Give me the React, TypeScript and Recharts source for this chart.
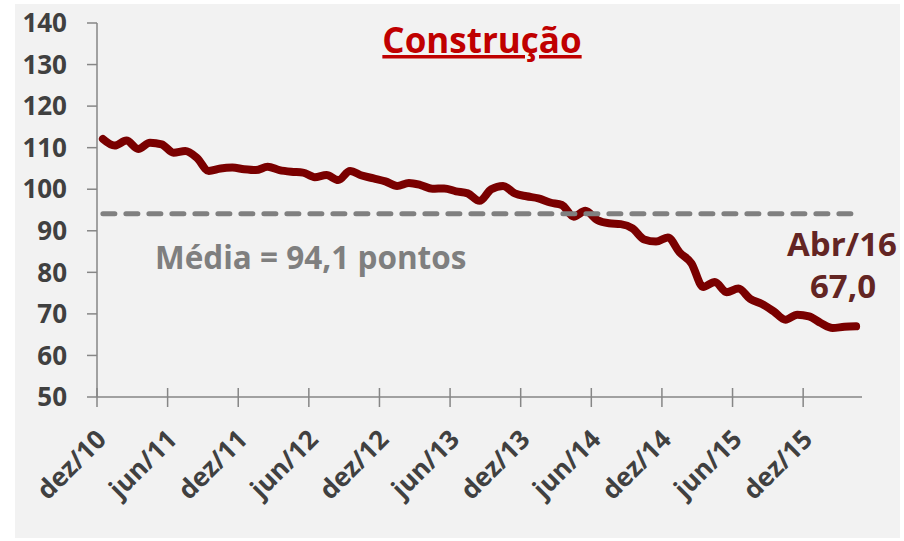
import React from "react";
import { LineChart, Line, XAxis, YAxis, ReferenceLine } from "recharts";

const monthNames = ["jan", "fev", "mar", "abr", "mai", "jun", "jul", "ago", "set", "out", "nov", "dez"];

// Index values, dez/10 .. abr/16 (65 months)
const values = [
  112.1, 110.5, 111.7, 109.7, 111.2, 110.8, 108.8, 109.2, 107.5, 104.4,
  105.0, 105.2, 104.8, 104.6, 105.4, 104.6, 104.2, 104.0, 102.9, 103.4,
  102.2, 104.4, 103.3, 102.6, 101.9, 100.8, 101.5, 101.0, 100.1, 100.2,
  99.5, 99.0, 97.2, 100.0, 100.8, 99.0, 98.3, 97.8, 96.8, 96.2,
  93.4, 94.8, 92.6, 91.8, 91.6, 90.6, 87.9, 87.4, 88.4, 84.8,
  82.2, 76.5, 77.7, 75.2, 76.1, 73.6, 72.4, 70.6, 68.6, 69.8,
  69.4, 67.8, 66.6, 66.9, 67.0,
];

const xTickLabels = ["dez/10", "jun/11", "dez/11", "jun/12", "dez/12", "jun/13", "dez/13", "jun/14", "dez/14", "jun/15", "dez/15"];
const yTicks = [50, 60, 70, 80, 90, 100, 110, 120, 130, 140];
const mediaValue = 94.1;
const lastLabel = "Abr/16";
const lastValueText = "67,0";
const title = "Construção";
const mediaText = "Média = 94,1 pontos";

const categories: string[] = values.map((_, i) => {
  const m = (11 + i) % 12;
  const y = 10 + Math.floor((11 + i) / 12);
  return `${monthNames[m]}/${y}`;
});

const data = values.map((v, i) => ({ i, name: categories[i], v }));

const W = 904;
const H = 541;
const margin = { top: 23, right: 42, bottom: 0, left: 0 };
const yAxisWidth = 97;
const xAxisHeight = 144;
const plotWidth = W - margin.left - margin.right - yAxisWidth;
const halfBand = plotWidth / values.length / 2;

const xTicks = xTickLabels.map((_, k) => k * 6 - 0.5);

const FONT = "'Open Sans', 'Noto Sans', sans-serif";
const AXIS_COLOR = "#868686";
const LABEL_COLOR = "#404040";

const XTick = (props: any) => {
  const { x, y, payload } = props;
  const k = Math.round((payload.value + 0.5) / 6);
  const label = xTickLabels[k] ?? "";
  const tx = x + halfBand + 5;
  const ty = y + 44;
  return (
    <g>
      <line x1={x} x2={x} y1={y - 9} y2={y + 10} stroke={AXIS_COLOR} strokeWidth={1.5} />
      <text
        x={tx}
        y={ty}
        textAnchor="end"
        transform={`rotate(-45 ${tx} ${ty})`}
        fontFamily={FONT}
        fontWeight={700}
        fontSize={26}
        fill={LABEL_COLOR}
      >
        {label}
      </text>
    </g>
  );
};

export default function App() {
  return (
    <div style={{ position: "absolute", left: 0, top: 0, width: W, height: H, background: "#ffffff" }}>
      <div style={{ position: "absolute", left: 15, top: 4, width: 885, height: 534, background: "#F2F2F2" }} />
      <div style={{ position: "absolute", left: 0, top: 0 }}>
        <LineChart width={W} height={H} data={data} margin={margin}>
          <XAxis
            dataKey="i"
            type="number"
            domain={[-0.5, 64.5]}
            ticks={xTicks}
            interval={0}
            tickLine={false}
            tickSize={0}
            tickMargin={0}
            height={xAxisHeight}
            axisLine={{ stroke: AXIS_COLOR, strokeWidth: 1.5 }}
            tick={<XTick />}
            allowDataOverflow
          />
          <YAxis
            type="number"
            domain={[50, 140]}
            ticks={yTicks}
            interval={0}
            width={yAxisWidth}
            tickSize={10}
            tickMargin={20}
            axisLine={{ stroke: AXIS_COLOR, strokeWidth: 1.5 }}
            tickLine={{ stroke: AXIS_COLOR, strokeWidth: 1.5 }}
            tick={{ fontFamily: FONT, fontWeight: 700, fontSize: 26, fill: LABEL_COLOR }}
          />
          <Line
            dataKey="v"
            type="monotone"
            stroke="#7A0000"
            strokeWidth={8}
            strokeLinecap="round"
            strokeLinejoin="round"
            dot={false}
            activeDot={false}
            isAnimationActive={false}
          />
          <ReferenceLine
            segment={[{ x: 0, y: mediaValue }, { x: values.length - 1, y: mediaValue }]}
            stroke="#808080"
            strokeWidth={5}
            strokeDasharray="12 11"
            strokeLinecap="round"
          />
        </LineChart>
      </div>
      <svg width={W} height={H} style={{ position: "absolute", left: 0, top: 0, pointerEvents: "none" }}>
        <text x={482} y={53} textAnchor="middle" fontFamily={FONT} fontWeight={700} fontSize={35} fill="#C00000" textDecoration="underline">
          {title}
        </text>
        <text x={155} y={269} fontFamily={FONT} fontWeight={700} fontSize={31.5} fill="#7F7F7F">
          {mediaText}
        </text>
        <text x={842} y={256} textAnchor="middle" fontFamily={FONT} fontWeight={700} fontSize={33} fill="#632523">
          {lastLabel}
        </text>
        <text x={843} y={298} textAnchor="middle" fontFamily={FONT} fontWeight={700} fontSize={33} fill="#632523">
          {lastValueText}
        </text>
      </svg>
    </div>
  );
}
